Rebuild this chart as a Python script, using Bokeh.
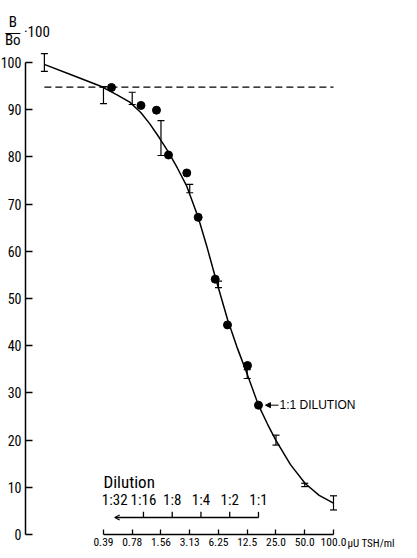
import math
from bokeh.plotting import figure
from bokeh.models import (Range1d, FixedTicker, Whisker, TeeHead, Label, Arrow,
                          NormalHead, OpenHead, ColumnDataSource)
from bokeh.core.properties import value
from bokeh.embed import file_html
from bokeh.resources import INLINE

# ---------------- data ----------------
tick_vals = [0.390625, 0.78125, 1.5625, 3.125, 6.25, 12.5, 25.0, 50.0, 100.0]
tick_labels = ["0.39", "0.78", "1.56", "3.13", "6.25", "12.5", "25.0", "50.0", "100.0"]
y_ticks = [0, 10, 20, 30, 40, 50, 60, 70, 80, 90, 100]

std_conc = [0.094, 0.390625, 0.78125, 1.5625, 3.125, 6.25, 12.5, 25.0, 50.0, 100.0]
std_mean = [100.0, 93.1, 92.4, 84.0, 73.3, 53.0, 34.0, 20.0, 10.5, 6.7]
std_err = [1.9, 1.8, 1.3, 3.7, 0.9, 0.7, 0.95, 1.05, 0.35, 1.5]

smp_conc = [0.474, 0.965, 1.402, 1.872, 2.910, 3.831, 5.773, 7.766, 12.58, 16.39]
smp_val = [94.7, 90.9, 89.9, 80.4, 76.6, 67.2, 54.1, 44.4, 35.8, 27.4]

curve_conc = [0.0936, 0.185, 0.372, 0.5475, 0.7364, 0.960, 1.184, 1.496, 1.872,
              2.326, 2.910, 3.339, 3.831, 4.68, 5.773, 7.766, 9.76, 12.28, 16.39,
              20.36, 24.88, 35.46, 50.55, 70.83, 100.0]
curve_val = [99.6, 97.3, 94.9, 93.1, 91.6, 89.4, 87.1, 84.1, 81.0,
             77.6, 73.8, 70.5, 67.2, 61.3, 54.6, 45.6, 39.7, 34.4, 27.4,
             23.4, 20.0, 14.8, 10.8, 8.3, 6.65]

ref_level = 94.8
ref_span = [0.094, 100.0]

dil_factors = [32, 16, 8, 4, 2, 1]
dil_labels = ["1:32", "1:16", "1:8", "1:4", "1:2", "1:1"]
full_strength = smp_conc[-1]
dil_conc = [full_strength / f for f in dil_factors]

# ---------------- figure ----------------
W, H = 401, 550
x0, x1 = 0.03264, 515.2
k = 4.72
y_zero_px = 534
y0, y1 = -(H - y_zero_px) / k, y_zero_px / k
yaxis_at = 0.05956
ppd = W / math.log2(x1 / x0)   # pixels per doubling

COND = "Roboto Condensed"
REG = "Liberation Sans"

p = figure(width=W, height=H, x_axis_type="log",
           x_range=Range1d(x0, x1), y_range=Range1d(y0, y1),
           output_backend="svg", toolbar_location=None,
           min_border_left=0, min_border_right=0, min_border_top=0,
           min_border_bottom=0)
p.grid.visible = False
p.outline_line_color = None

xa = p.xaxis[0]
xa.fixed_location = 0
xa.ticker = FixedTicker(ticks=tick_vals)
xa.major_label_overrides = {v: s for v, s in zip(tick_vals, tick_labels)}
xa.bounds = (tick_vals[0], tick_vals[-1])
xa.major_tick_in = 5
xa.major_tick_out = 0
xa.minor_tick_line_color = None
xa.axis_line_width = 1.5
xa.major_tick_line_width = 1.3
xa.axis_line_color = "black"
xa.major_tick_line_color = "black"
xa.major_label_text_font = COND
xa.major_label_text_font_size = "11.5px"
xa.major_label_text_color = "black"
xa.major_label_standoff = 3

ya = p.yaxis[0]
ya.fixed_location = yaxis_at
ya.ticker = FixedTicker(ticks=y_ticks)
ya.bounds = (0, 100)
ya.major_tick_in = 7
ya.major_tick_out = 0
ya.minor_tick_line_color = None
ya.axis_line_width = 1.5
ya.major_tick_line_width = 1.5
ya.axis_line_color = "black"
ya.major_tick_line_color = "black"
ya.major_label_text_font = COND
ya.major_label_text_font_size = "14px"
ya.major_label_text_color = "black"
ya.major_label_standoff = 4

# dashed reference line
p.line(ref_span, [ref_level, ref_level], line_color="black", line_width=1.3,
       line_dash="7 4")

# fitted curve
p.line(curve_conc, curve_val, line_color="black", line_width=1.5)

# error bars of the standards
src = ColumnDataSource(dict(x=std_conc,
                            upper=[m + e for m, e in zip(std_mean, std_err)],
                            lower=[m - e for m, e in zip(std_mean, std_err)]))
wh = Whisker(source=src, base="x", upper="upper", lower="lower",
             dimension="height", line_color="black", line_width=1.2,
             upper_head=TeeHead(size=7, line_width=1.2, line_color="black"),
             lower_head=TeeHead(size=7, line_width=1.2, line_color="black"))
p.add_layout(wh)

# sample dots
p.scatter(smp_conc, smp_val, size=8, color="black")

# dilution scale
dil_y = 3.6
p.add_layout(Arrow(x_start=dil_conc[-1], x_end=dil_conc[0], y_start=dil_y, y_end=dil_y,
                   line_width=1.3, line_color="black",
                   end=OpenHead(size=5, line_width=1.2, line_color="black")))
p.segment(x0=dil_conc[1:], x1=dil_conc[1:], y0=[dil_y] * 5, y1=[dil_y + 1.2] * 5,
          line_color="black", line_width=1.3)
p.text(x=dil_conc, y=[7.3] * len(dil_conc), text=dil_labels,
       text_align="center", text_baseline="middle", text_font=value(COND),
       text_font_size="15px", text_color="black")
p.add_layout(Label(x=tick_vals[0], y=11.2, text="Dilution", text_align="left",
                   text_baseline="middle", text_font=COND, text_font_size="17px",
                   text_color="black"))

# x-axis unit
p.add_layout(Label(x=tick_vals[-1], y=0, x_offset=14, y_offset=-9, text="µU TSH/ml",
                   text_align="left", text_baseline="middle", text_font=COND,
                   text_font_size="11px", text_color="black"))

# 1:1 dilution annotation
cx, cy = smp_conc[-1], smp_val[-1]
p.add_layout(Arrow(x_start=cx * 2 ** (20 / ppd), x_end=cx * 2 ** (7 / ppd),
                   y_start=cy, y_end=cy, line_width=1, line_color="black",
                   end=NormalHead(size=5, fill_color="black", line_color="black")))
p.add_layout(Label(x=cx, y=cy, x_offset=21, text="1:1 DILUTION", text_align="left",
                   text_baseline="middle", text_font=REG, text_font_size="12px",
                   text_color="black"))

# y-axis title  B/Bo · 100
for txt, yy, dx, al, fnt in [("B", 108.6, -12.7, "center", COND),
                             ("\u2014", 106.6, -12.7, "center", REG),
                             ("Bo", 104.7, -12.7, "center", COND),
                             ("\u00b7100", 106.5, -1.5, "left", COND)]:
    p.add_layout(Label(x=yaxis_at, y=yy, x_offset=dx, text=txt, text_align=al,
                       text_baseline="middle", text_font=fnt, text_font_size="15px",
                       text_color="black"))

open("out.html", "w").write(file_html(p, INLINE))
